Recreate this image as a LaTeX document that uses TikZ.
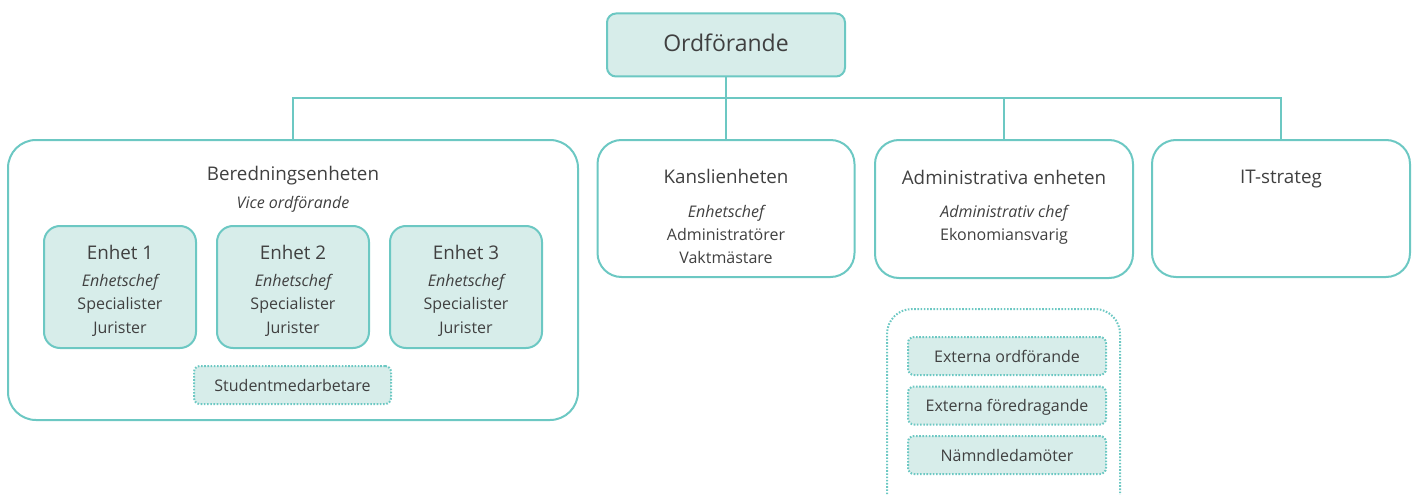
\documentclass[tikz,border=0pt]{standalone}
\usepackage{fontspec}
\setmainfont{Open Sans}
\definecolor{kant}{RGB}{108,200,195}
\definecolor{fyll}{RGB}{215,237,234}
\definecolor{textgra}{RGB}{64,64,64}

\tikzset{every picture/.style={line width=0.75pt}}
\tikzset{
  ruta/.style={draw=kant, line width=2pt, inner sep=0pt, rounded corners=24pt},
  enhetruta/.style={ruta, fill=fyll, rounded corners=16pt},
  prickruta/.style={draw=kant, line width=2pt, inner sep=0pt, dash pattern=on 1.6pt off 1.6pt, rounded corners=6pt},
  linje/.style={draw=kant, line width=2pt},
  rubrik/.style={anchor=base, inner sep=0pt, text=textgra, font=\fontsize{18.8}{22}\selectfont},
  brod/.style={anchor=base, inner sep=0pt, text=textgra, font=\fontsize{16}{18}\selectfont},
  kursiv/.style={brod, font=\fontsize{16}{18}\selectfont\itshape},
}

\begin{document}
\begin{tikzpicture}[x=1pt,y=1pt,yscale=-1]
\useasboundingbox (0,0) rectangle (1416,495);
\clip (0,0) rectangle (1416,495);

%Shape: Rounded Rect (top)
\node [ruta, fill=fyll, rounded corners=9pt, minimum width=238pt, minimum height=63pt] (ordf) at (726,45) {};
%Shape: Rounded Rect (units)
\node [ruta, rounded corners=28pt, minimum width=570pt, minimum height=280pt] (bered) at (293,280) {};
\node [ruta, minimum width=257pt, minimum height=137pt] (kansli) at (726,208.5) {};
\node [ruta, minimum width=258pt, minimum height=138pt] (admin) at (1004,209) {};
\node [ruta, minimum width=258pt, minimum height=137pt] (itstrat) at (1281,208.5) {};
%Shape: Rounded Rect (Enhet 1-3)
\foreach \n/\x in {1/120,2/293,3/466}
  \node [enhetruta, minimum width=152pt, minimum height=122pt] (enhet\n) at (\x,287) {};
%Shape: Dotted Rect
\node [prickruta, fill=fyll, minimum width=197pt, minimum height=38pt] (student) at (292.5,385) {};
\node [prickruta, rounded corners=25pt, minimum width=233pt, minimum height=211pt] (externa) at (1003.5,414.5) {};
\node [prickruta, fill=fyll, minimum width=198pt, minimum height=38pt] (ext1) at (1007,356) {};
\node [prickruta, fill=fyll, minimum width=198pt, minimum height=38pt] (ext2) at (1007,405.5) {};
\node [prickruta, fill=fyll, minimum width=198pt, minimum height=38pt] (ext3) at (1007,455) {};

%Straight Lines
\coordinate (buss) at (726,98);
\draw [linje] (ordf.south) -- (kansli.north);
\draw [linje] (bered.north) |- (buss -| itstrat.north) -- (itstrat.north);
\draw [linje] (admin.north) -- (admin.north |- buss);

% Text Node
\node [rubrik, font=\fontsize{23}{26}\selectfont] (ordf-t) at (726,52) {Ordförande};
% Text Node
\node [rubrik] (bered-t) at (293,180) {Beredningsenheten};
\node [kursiv] (bered-vice) at (293,208) {Vice ordförande};
% Text Node
\foreach \n/\x in {1/120,2/293,3/466} {
  \node [rubrik] (enhet\n-t) at (\x,259) {Enhet \n};
  \node [kursiv] (enhet\n-chef) at (\x,286) {Enhetschef};
  \node [brod] (enhet\n-spec) at (\x,309.5) {Specialister};
  \node [brod] (enhet\n-jur) at (\x,333) {Jurister};
}
% Text Node
\node [brod] (student-t) at (292.5,391) {Studentmedarbetare};
% Text Node
\node [rubrik] (kansli-t) at (726,183) {Kanslienheten};
\node [kursiv] (kansli-chef) at (726,217) {Enhetschef};
\node [brod] (kansli-adm) at (726,240) {Administratörer};
\node [brod] (kansli-vakt) at (726,263) {Vaktmästare};
% Text Node
\node [rubrik] (admin-t) at (1004,184) {Administrativa enheten};
\node [kursiv] (admin-chef) at (1004,217) {Administrativ chef};
\node [brod] (admin-ek) at (1004,240) {Ekonomiansvarig};
% Text Node
\node [rubrik] (itstrat-t) at (1281,183) {IT-strateg};
% Text Node
\node [brod] (ext1-t) at (1007,362) {Externa ordförande};
\node [brod] (ext2-t) at (1007,411.5) {Externa föredragande};
\node [brod] (ext3-t) at (1007,461) {Nämndledamöter};

\end{tikzpicture}
\end{document}
